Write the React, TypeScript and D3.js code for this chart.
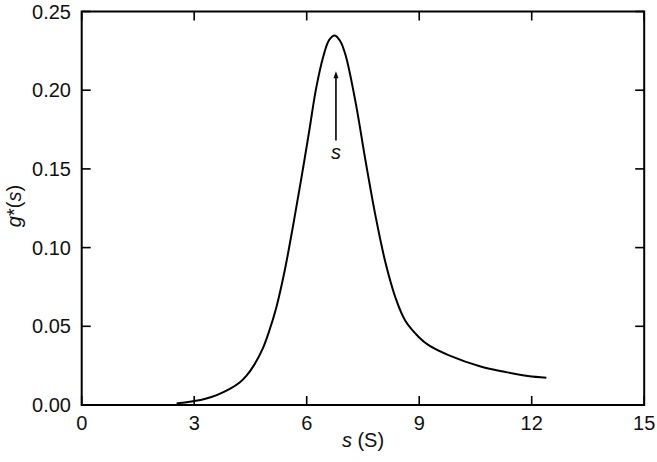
import * as d3 from 'd3';
import React, {useEffect, useRef} from 'react';

// curve
const sVals = [2.53, 2.8, 3.0, 3.3, 3.6, 3.95, 4.22, 4.39, 4.6, 4.83, 5.0, 5.19, 5.41, 5.63, 5.85, 6.07, 6.25, 6.45, 6.6, 6.75, 6.9, 7.04, 7.31, 7.57, 7.84, 8.1, 8.37, 8.63, 8.98, 9.25, 9.78, 10.66, 11.3, 11.9, 12.39];
const gVals = [0.001, 0.0018, 0.0025, 0.004, 0.0063, 0.0102, 0.0145, 0.0185, 0.0255, 0.036, 0.047, 0.062, 0.085, 0.113, 0.143, 0.1745, 0.201, 0.222, 0.232, 0.2348, 0.231, 0.222, 0.1915, 0.155, 0.1195, 0.0905, 0.068, 0.0535, 0.0434, 0.038, 0.0317, 0.0243, 0.021, 0.0184, 0.0173];

const xTicks = [0, 3, 6, 9, 12, 15];
const yTicks = [0, 0.05, 0.1, 0.15, 0.2, 0.25];

// arrow marking the peak
const arrowS = 6.78;
const arrowFrom = 0.168;
const arrowTo = 0.212;

const App = () => {
  const svgRef = useRef<SVGSVGElement>(null);

  useEffect(() => {
    const svg = d3.select(svgRef.current);
    svg.selectAll('*').remove();

    const left = 81.7, right = 644.2, top = 11.5, bottom = 405;
    const font = 'Liberation Sans, Arial, sans-serif';
    const fs = 20;

    const x = d3.scaleLinear().domain([0, 15]).range([left, right]);
    const y = d3.scaleLinear().domain([0, 0.25]).range([bottom, top]);

    const tick = 9;
    const g = svg.append('g');

    // frame
    g.append('rect')
      .attr('x', left).attr('y', top)
      .attr('width', right - left).attr('height', bottom - top)
      .attr('fill', 'none').attr('stroke', '#000').attr('stroke-width', 2);

    // x ticks, bottom and top, inward
    xTicks.forEach(t => {
      g.append('line').attr('x1', x(t)).attr('x2', x(t)).attr('y1', bottom).attr('y2', bottom - tick)
        .attr('stroke', '#000').attr('stroke-width', 1.6);
      g.append('line').attr('x1', x(t)).attr('x2', x(t)).attr('y1', top).attr('y2', top + tick)
        .attr('stroke', '#000').attr('stroke-width', 1.6);
      g.append('text').attr('x', x(t)).attr('y', 430)
        .attr('text-anchor', 'middle').attr('font-family', font).attr('font-size', fs)
        .attr('fill', '#111')
        .text(String(t));
    });

    yTicks.forEach(t => {
      g.append('line').attr('x1', left).attr('x2', left + tick).attr('y1', y(t)).attr('y2', y(t))
        .attr('stroke', '#000').attr('stroke-width', 1.6);
      g.append('line').attr('x1', right).attr('x2', right - tick).attr('y1', y(t)).attr('y2', y(t))
        .attr('stroke', '#000').attr('stroke-width', 1.6);
      g.append('text').attr('x', 71).attr('y', y(t) + 7)
        .attr('text-anchor', 'end').attr('font-family', font).attr('font-size', fs)
        .attr('fill', '#111')
        .text(d3.format('.2f')(t));
    });

    // axis titles
    const xl = g.append('text').attr('x', 363).attr('y', 447)
      .attr('text-anchor', 'middle').attr('font-family', font).attr('font-size', fs).attr('fill', '#111');
    xl.append('tspan').attr('font-style', 'italic').text('s');
    xl.append('tspan').text(' (S)');

    const yl = g.append('text').attr('transform', 'translate(21,206) rotate(-90)')
      .attr('text-anchor', 'middle').attr('font-family', font).attr('font-size', fs).attr('fill', '#111');
    yl.append('tspan').attr('font-style', 'italic').text('g');
    yl.append('tspan').text('*(');
    yl.append('tspan').attr('font-style', 'italic').text('s');
    yl.append('tspan').text(')');

    // curve
    const pts = sVals.map((s, i) => [s, gVals[i]] as [number, number]);
    const line = d3.line<[number, number]>()
      .x(d => x(d[0])).y(d => y(d[1]))
      .curve(d3.curveCatmullRom.alpha(0.5));
    g.append('path').attr('d', line(pts))
      .attr('fill', 'none').attr('stroke', '#000').attr('stroke-width', 2);

    // arrow
    const ax = x(arrowS);
    g.append('line').attr('x1', ax).attr('x2', ax).attr('y1', y(arrowFrom)).attr('y2', y(arrowTo) + 5)
      .attr('stroke', '#000').attr('stroke-width', 1.6);
    g.append('path')
      .attr('d', `M${ax},${y(arrowTo)} L${ax - 2.5},${y(arrowTo) + 7} L${ax + 2.5},${y(arrowTo) + 7} Z`)
      .attr('fill', '#000');
    g.append('text').attr('x', ax).attr('y', 159)
      .attr('text-anchor', 'middle').attr('font-family', font).attr('font-size', fs)
      .attr('font-style', 'italic').attr('fill', '#111').text('s');
  }, []);

  return (
    <svg ref={svgRef} width="657" height="462" style={{position: 'absolute', left: 0, top: 0, background: '#fff'}}></svg>
  );
};

export default App;
